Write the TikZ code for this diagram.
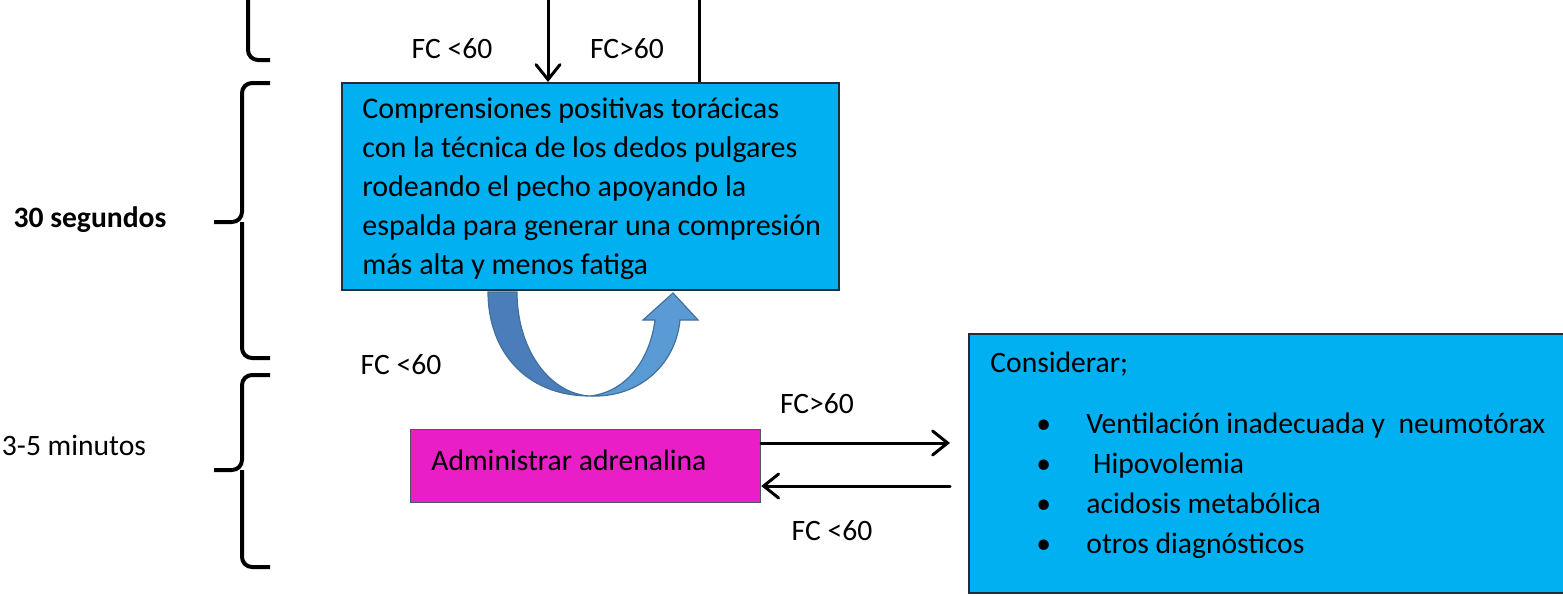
\documentclass[tikz,border=0pt]{standalone}
\usepackage{fontspec}
\setmainfont{Carlito}
\usetikzlibrary{arrows.meta}
\definecolor{boxcyan}{HTML}{00B0F0}
\definecolor{boxmag}{HTML}{E91EC6}
\definecolor{boxline}{HTML}{1F2D3A}
\definecolor{udark}{HTML}{4A7DBA}
\definecolor{ulight}{HTML}{5B9BD5}
\definecolor{uline}{HTML}{41719C}
\begin{document}
\begin{tikzpicture}[x=0.5pt,y=-0.5pt,
    font=\fontsize{14.8}{15.5}\selectfont,
    cbox/.style={draw=boxline, line width=0.8pt, fill=boxcyan, anchor=north west, inner sep=0pt},
    mbox/.style={draw=boxline!80, line width=0.6pt, fill=boxmag, anchor=north west, inner sep=0pt},
    lbl/.style={anchor=base, inner sep=0pt},
    brc/.style={line width=2pt, line cap=butt, rounded corners=5pt},
    arr/.style={line width=1.5pt, line cap=round, -{Straight Barb[length=7.5pt,width=12pt,line cap=round]}}]
    \useasboundingbox (0,0) rectangle (1563,595);
        % boxes
       \node[cbox, minimum width=248.5pt, minimum height=103.5pt] (comp) at (341,82) {};
       \node[mbox, minimum width=175pt, minimum height=36.5pt] (adre) at (410,429) {};
       \node[cbox, minimum width=299pt, minimum height=129.5pt] (consid) at (968,333) {};
       \node[anchor=north west, inner sep=0pt, align=left,
             font=\fontsize{15}{19.5}\selectfont] (comptxt) at (362,94)
          {\rule{0pt}{12pt}Comprensiones positivas torácicas\\
           con la técnica de los dedos pulgares\\
           rodeando el pecho apoyando la\\
           espalda para generar una compresión\\
           más alta y menos fatiga};
       \node[anchor=base west, inner sep=0pt] (adretxt) at (431,470) {Administrar adrenalina};
       \node[anchor=base west, inner sep=0pt] (constxt) at (990,372) {Considerar;};
       \node[anchor=north west, inner sep=0pt, align=left,
             font=\fontsize{14.8}{20}\selectfont] (conslist) at (1036,409)
          {\rule{0pt}{12pt}\makebox[25pt][l]{\textbullet}Ventilación inadecuada y\ \ neumotórax\\
           \makebox[25pt][l]{\textbullet}\ Hipovolemia\\
           \makebox[25pt][l]{\textbullet}acidosis metabólica\\
           \makebox[25pt][l]{\textbullet}otros diagnósticos};
        % labels
       \node[lbl, font=\fontsize{14.8}{15.5}\selectfont\bfseries] (seg) at (90,227) {30 segundos};
       \node[lbl] (minu) at (74,455) {3-5 minutos};
       \node[lbl] (fca) at (452,58) {FC <60};
       \node[lbl] (fcb) at (627,58) {FC>60};
       \node[lbl] (fcc) at (401,374) {FC <60};
       \node[lbl] (fcd) at (817,413) {FC>60};
       \node[lbl] (fce) at (832,540) {FC <60};
        % braces
       \draw[brc] (248,0) -- (248,60) -- (270,60);
       \draw[brc] (270,83) -- (242,83) -- (242,222) -- (214,222);
       \draw[brc] (242,222) -- (242,358) -- (270,358);
       \draw[brc] (270,375) -- (242,375) -- (242,470) -- (214,470);
       \draw[brc] (242,470) -- (242,567) -- (270,567);
        % arrows
       \coordinate (topa) at (548,0);
       \coordinate (topb) at (699,0);
       \coordinate (gt) at (950,443);
       \coordinate (lt) at (950,486);
       \draw[arr] (topa) -- (topa |- comp.north);
       \draw[line width=1.5pt] (topb) -- (topb |- comp.north);
       \draw[arr] (adre.east |- gt) -- (gt);
       \draw[arr] (lt) -- (adre.east |- lt);
        % u-turn arrow
       \filldraw[fill=udark, draw=uline, line width=0.6pt]
         (488,292) -- (517,292) .. controls (517,350) and (550,394) .. (590,396)
         .. controls (525,396) and (488,350) .. cycle;
       \filldraw[fill=ulight, draw=uline, line width=0.6pt]
         (590,396) .. controls (642,398) and (676,362) .. (680,320) -- (698,320) -- (673,293)
         -- (643,320) -- (655,320) .. controls (650,360) and (626,392) .. cycle;
      \end{tikzpicture}
\end{document}
